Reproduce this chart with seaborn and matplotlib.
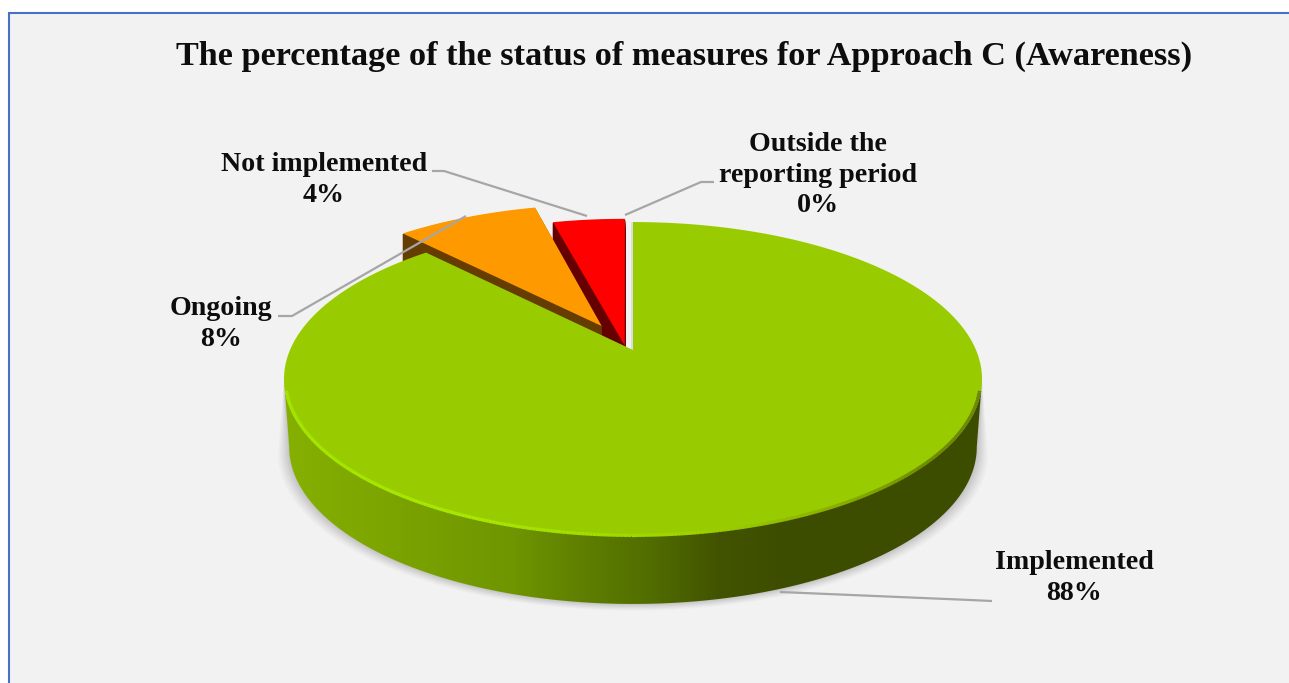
import numpy as np
import seaborn as sns
import matplotlib.pyplot as plt
from matplotlib.colors import LinearSegmentedColormap
from matplotlib.collections import LineCollection
from matplotlib.patches import Polygon, Rectangle
from matplotlib.transforms import Affine2D, Transform
from matplotlib.path import Path

# =========================
# DATA
# =========================

STATUS = ["Implemented", "Ongoing", "Not implemented", "Outside the\nreporting period"]
PERCENT = [88, 8, 4, 0]
EXPLODE = [0, 0.17, 0.03, 0]
TOP_COLORS = ["#99cc00", "#ff9900", "#ff0000", "#dcdcdc"]
WALL_COLORS = ["#99cc00", "#663d00", "#660000", "#dcdcdc"]
TITLE = "The percentage of the status of measures for Approach C (Awareness)"

# =========================
# TILTED PIE PROJECTION
# =========================

CX, CY = 633, 350
A, B, K = 343, 151.6, 0.1847
DEPTH = 68
SLICE_DEPTH = 30
NUDGE_X = [0, -4, -7, -1]
NUDGE_Y = [0, -2, 0, 0]
FONT = "Liberation Serif"


class Tilt(Transform):
    input_dims = 2
    output_dims = 2
    is_separable = False
    has_inverse = False

    def transform_non_affine(self, values):
        values = np.asarray(values, dtype=float)
        d = 1 + K * values[:, 1]
        return np.column_stack([CX + A * values[:, 0] / d, CY - B * values[:, 1] / d])

    def transform_path_non_affine(self, path):
        pts = []
        for seg, code in path.iter_bezier():
            pts.extend(seg(np.linspace(0, 1, 40)))
        pts = np.array(pts)
        return Path(self.transform_non_affine(pts))


sns.set_theme(style="white")
plt.rcParams["font.family"] = [FONT, "DejaVu Serif"]

fig = plt.figure(figsize=(12.89, 6.83), dpi=100)
ax = fig.add_axes([0, 0, 1, 1])

tilt = Tilt()

# slice walls: the same pie stacked downwards, tops cover them afterwards
wall_sets = []
for drop in range(1, SLICE_DEPTH + 1):
    walls, _ = ax.pie(PERCENT, colors=WALL_COLORS, explode=EXPLODE, startangle=90,
                      counterclock=False, wedgeprops=dict(linewidth=0.5))
    wall_sets.append((drop, walls))

tops, _ = ax.pie(PERCENT, colors=TOP_COLORS, explode=EXPLODE, startangle=90,
                 counterclock=False, wedgeprops=dict(linewidth=0))

ax.set_aspect("auto")
ax.set_xlim(0, 1289)
ax.set_ylim(683, 0)
ax.set_axis_off()

for drop, walls in wall_sets:
    for i, w in enumerate(walls):
        w.set_transform(tilt + Affine2D().translate(NUDGE_X[i], NUDGE_Y[i] + drop) + ax.transData)
        w.set_edgecolor(WALL_COLORS[i])
        # red walls sit behind the orange ones
        w.set_zorder(3.2 if i == 1 else 3)
    walls[0].set_visible(False)
    walls[3].set_visible(False)

for i, w in enumerate(tops):
    w.set_transform(tilt + Affine2D().translate(NUDGE_X[i], NUDGE_Y[i]) + ax.transData)
    w.set_zorder(4)
tops[0].set_zorder(5)
tops[3].set_linewidth(2)
tops[3].set_edgecolor(TOP_COLORS[3])

# background panel with the blue frame
ax.add_patch(Rectangle((8.5, 12.5), 1400, 800, facecolor="#f2f2f2",
                       edgecolor="#4472c4", linewidth=1.5, zorder=0))

# =========================
# SIDE WALL OF THE BIG SLICE
# =========================

t0 = np.arcsin(K)
t = np.linspace(np.pi + t0, 2 * np.pi - t0, 300)
rim = tilt.transform_non_affine(np.column_stack([np.cos(t), np.sin(t)]))
low = rim.copy()
low[:, 0] = CX + (low[:, 0] - CX) * 0.985
low[:, 1] += DEPTH

# soft shadow under the wall
for grow, alpha in [(11, 0.05), (9, 0.06), (7, 0.07), (5, 0.08), (3, 0.1), (1, 0.12)]:
    sh = low.copy()
    sh[:, 0] = CX + (sh[:, 0] - CX) * (1 + grow / 340)
    sh[:, 1] += grow * 0.6
    ax.add_patch(Polygon(np.vstack([rim, sh[::-1]]), closed=True, facecolor="#808080",
                         alpha=alpha, linewidth=0, zorder=1))

wall_cmap = LinearSegmentedColormap.from_list(
    "wall",
    [(0.0, "#86b000"), (0.18, "#79a200"), (0.33, "#6f9500"), (0.42, "#5f8000"),
     (0.52, "#526e00"), (0.62, "#425400"), (0.72, "#3d4d00"), (1.0, "#3d4d00")],
)
wall_patch = Polygon(np.vstack([rim, low[::-1]]), closed=True, facecolor="none",
                     linewidth=0, transform=ax.transData)
ax.add_patch(wall_patch)
img = ax.imshow(np.linspace(0, 1, 256).reshape(1, -1), cmap=wall_cmap, aspect="auto",
                extent=(284, 983, 620, 370), zorder=2)
img.set_clip_path(wall_patch)
ax.set_xlim(0, 1289)
ax.set_ylim(683, 0)

# bevel along the front edge of the top face, kept just inside the rim
inner = rim[8:-8].copy()
inner[:, 0] = CX + (inner[:, 0] - CX) * 0.996
inner[:, 1] = 379 + (inner[:, 1] - 379) * 0.996
points = inner.reshape(-1, 1, 2)
segs = np.concatenate([points[:-1], points[1:]], axis=1)
bevel = LinearSegmentedColormap.from_list(
    "bevel",
    [(0.0, "#a4e600"), (0.35, "#a8e800"), (0.55, "#9ed400"), (0.68, "#8cb400"),
     (0.82, "#6d8a00"), (1.0, "#66800a")],
)
ax.add_collection(LineCollection(segs, colors=bevel(np.linspace(0, 1, len(segs))),
                                 linewidths=2.4, zorder=6, capstyle="butt"))

# =========================
# LEADER LINES
# =========================

LEADERS = [
    ([432, 444, 587], [171, 171, 216]),
    ([714, 701, 625], [182, 182, 215]),
    ([278, 292, 466], [316, 316, 216]),
    ([780, 970, 992], [592, 600, 601]),
]
for xs, ys in LEADERS:
    ax.plot(xs, ys, color="#a6a6a6", linewidth=1.6, zorder=7, solid_capstyle="butt")

# =========================
# TEXT
# =========================

LABEL_POS = [(1074, 578), (221, 324), (324, 180), (818, 175)]
for name, pct, (x, y) in zip(STATUS, PERCENT, LABEL_POS):
    ax.text(x, y, f"{name}\n{pct}%", ha="center", va="center", fontsize=20.2,
            fontweight="bold", color="#0d0d0d", linespacing=1.27, zorder=8)

ax.text(684, 56, TITLE, ha="center", va="center", fontsize=24.7, fontweight="bold",
        color="#0d0d0d", zorder=8)

fig.savefig("out.png", dpi=100, facecolor="white")
